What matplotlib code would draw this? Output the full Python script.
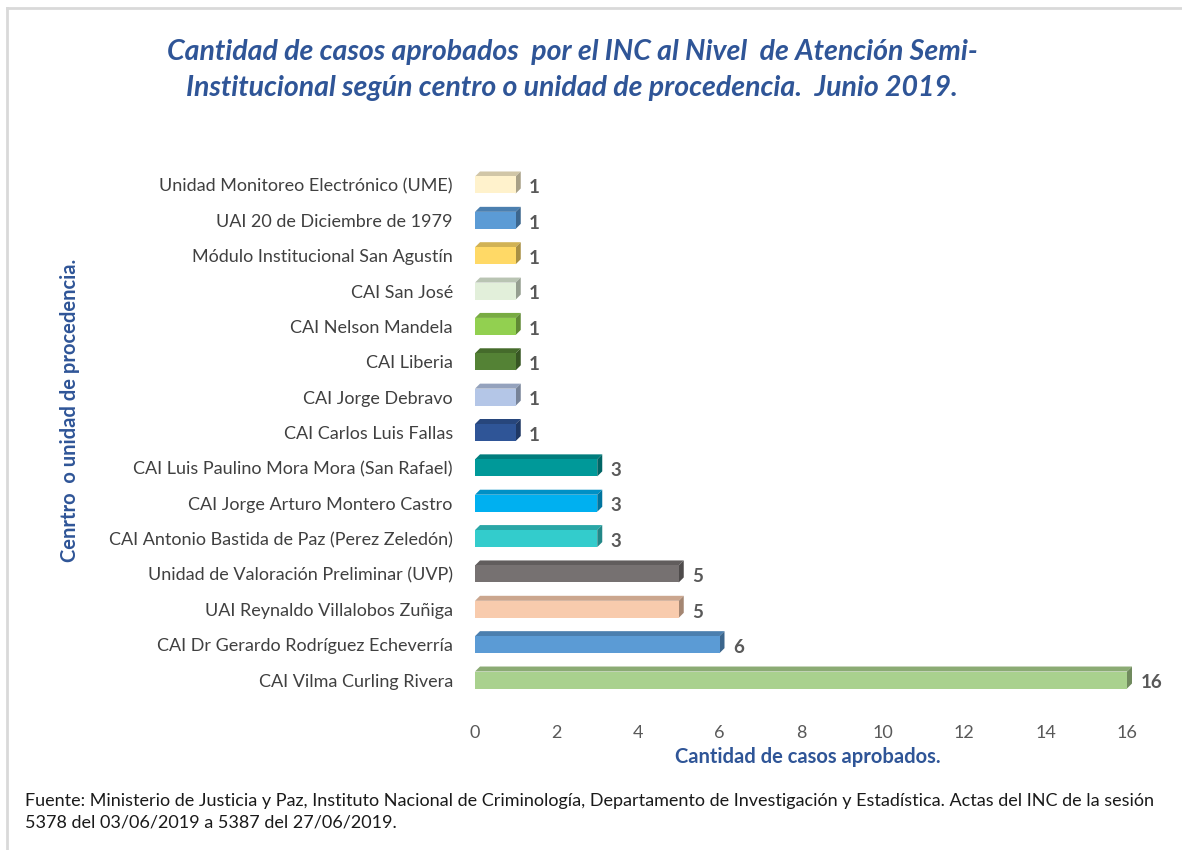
import matplotlib
matplotlib.use("Agg")
import matplotlib.pyplot as plt
from matplotlib.patches import Polygon
from matplotlib.lines import Line2D
import matplotlib.colors as mcolors
import numpy as np

plt.rcParams['font.family'] = ['Lato', 'DejaVu Sans']

# Data (bottom to top)
categories = [
    "CAI Vilma Curling Rivera",
    "CAI Dr Gerardo Rodríguez Echeverría",
    "UAI Reynaldo Villalobos Zuñiga",
    "Unidad de Valoración Preliminar (UVP)",
    "CAI Antonio Bastida de Paz (Perez Zeledón)",
    "CAI Jorge Arturo Montero Castro",
    "CAI Luis Paulino Mora Mora (San Rafael)",
    "CAI Carlos Luis Fallas",
    "CAI Jorge Debravo",
    "CAI Liberia",
    "CAI Nelson Mandela",
    "CAI San José",
    "Módulo Institucional San Agustín",
    "UAI 20 de Diciembre de 1979",
    "Unidad Monitoreo Electrónico (UME)",
]
values = [16, 6, 5, 5, 3, 3, 3, 1, 1, 1, 1, 1, 1, 1, 1]
colors = [
    "#A9D18E", "#5B9BD5", "#F8CBAD", "#767171", "#33CCCC", "#00B0F0",
    "#009999", "#2F5597", "#B4C6E7", "#548235", "#92D050", "#E2EFDA",
    "#FFD966", "#5B9BD5", "#FFF2CC",
]
xticks = [0, 2, 4, 6, 8, 10, 12, 14, 16]

title = ("Cantidad de casos aprobados  por el INC al Nivel  de Atención Semi-\n"
         "Institucional según centro o unidad de procedencia.  Junio 2019.")
xlabel = "Cantidad de casos aprobados."
ylabel = "Cenrtro  o unidad de procedencia."
source = ("Fuente: Ministerio de Justicia y Paz, Instituto Nacional de Criminología, "
          "Departamento de Investigación y Estadística. Actas del INC de la sesión\n"
          "5378 del 03/06/2019 a 5387 del 27/06/2019.")

W, H = 1182, 850
fig = plt.figure(figsize=(W / 100, H / 100), dpi=100)
fig.patch.set_facecolor("white")

# axes placement in pixels
x0_px, x16_px = 475, 1127
top_px, bot_px = 167.3, 697.7
ax = fig.add_axes([x0_px / W, 1 - bot_px / H, (x16_px - x0_px) / W, (bot_px - top_px) / H])
ax.set_xlim(0, 16)
ax.set_ylim(-0.5, len(categories) - 0.5)

pxx = (x16_px - x0_px) / 16.0
pxy = (bot_px - top_px) / len(categories)
depth = 5.0
dx = depth / pxx
dy = depth / pxy
bh = 17.0 / pxy

y = np.arange(len(categories))
for yi, v, c in zip(y, values, colors):
    rgb = np.array(mcolors.to_rgb(c))
    top_c = tuple(rgb * 0.82)
    side_c = tuple(rgb * 0.66)
    yb, yt = yi - bh / 2, yi + bh / 2
    ax.add_patch(Polygon([(0, yt), (v, yt), (v + dx, yt + dy), (dx, yt + dy)],
                         closed=True, facecolor=top_c, edgecolor="none", clip_on=False, zorder=2))
    ax.add_patch(Polygon([(v, yb), (v + dx, yb + dy), (v + dx, yt + dy), (v, yt)],
                         closed=True, facecolor=side_c, edgecolor="none", clip_on=False, zorder=2))
    ax.barh(yi, v, height=bh, left=0, color=c, edgecolor="none", zorder=3, clip_on=False)
    ax.annotate(str(v), xy=(v + dx, yi), xytext=(6, -2), textcoords="offset points",
                ha="left", va="center", fontsize=13.5, fontweight="bold", color="#595959",
                annotation_clip=False)

ax.set_yticks(y)
ax.set_yticklabels(categories, fontsize=13, color="#404040")
ax.set_xticks(xticks)
ax.set_xticklabels([str(t) for t in xticks], fontsize=13, color="#595959")
ax.tick_params(axis="both", length=0)
ax.tick_params(axis="y", pad=16)
ax.tick_params(axis="x", pad=20)
for s in ax.spines.values():
    s.set_visible(False)
ax.set_facecolor("none")

blue = "#2F5597"
fig.text(572 / W, 1 - 70 / H, title, ha="center", va="center", fontsize=20.5,
         fontweight="bold", fontstyle="italic", color=blue, linespacing=1.48)
fig.text(808 / W, 1 - 757 / H, xlabel, ha="center", va="center", fontsize=14.5,
         fontweight="bold", color=blue)
fig.text(70 / W, 1 - 410 / H, ylabel, ha="center", va="center", rotation=90,
         fontsize=14.5, fontweight="bold", color=blue)
fig.text(25 / W, 1 - 812 / H, source, ha="left", va="center", fontsize=13,
         color="#1a1a1a", linespacing=1.4)

# border (left and top)
fig.add_artist(Line2D([7 / W, 7 / W], [0, 1 - 8 / H], transform=fig.transFigure,
                      color="#D9D9D9", lw=2))
fig.add_artist(Line2D([7 / W, 1], [1 - 8 / H, 1 - 8 / H], transform=fig.transFigure,
                      color="#D9D9D9", lw=2))

fig.savefig("out.png", dpi=100, facecolor="white")
